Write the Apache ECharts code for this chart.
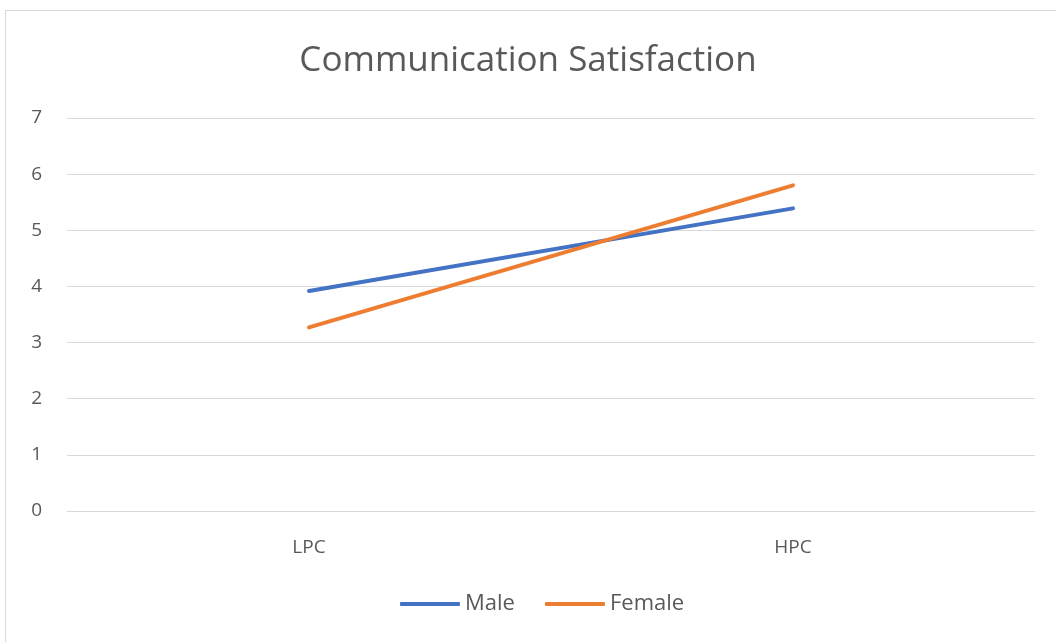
<!DOCTYPE html>
<html>
<head>
<meta charset="utf-8">
<script src="https://cdn.jsdelivr.net/npm/echarts@6/dist/echarts.min.js"></script>
<style>
  html, body { margin: 0; padding: 0; background: #fff; }
  #frame { position: absolute; left: 5px; top: 10px; width: 1060px; height: 640px; border: 1px solid #d9d9d9; box-sizing: border-box; }
  #chart { position: absolute; left: 0; top: 0; width: 1056px; height: 642px; }
</style>
</head>
<body>
<div id="frame"></div>
<div id="chart"></div>
<script>
const categories = ['LPC', 'HPC'];
const maleValues = [3.92, 5.39];
const femaleValues = [3.27, 5.80];
const yTicks = [0, 7, 1];

const chart = echarts.init(document.getElementById('chart'));
const textColor = '#595959';
const font = "'Open Sans', Calibri, sans-serif";

chart.setOption({
    animation: false,
    title: {
        text: 'Communication Satisfaction',
        left: 'center',
        top: 39,
        textStyle: { color: textColor, fontFamily: font, fontSize: 35, fontWeight: 'normal' }
    },
    legend: {
        bottom: 22,
        left: 395,
        itemWidth: 60,
        itemHeight: 4,
        itemGap: 30,
        icon: 'roundRect',
        textStyle: { color: textColor, fontFamily: font, fontSize: 22 },
        data: ['Male', 'Female']
    },
    grid: { left: 67, right: 21, top: 118, bottom: 131 },
    xAxis: {
        type: 'category',
        data: categories,
        boundaryGap: true,
        axisLine: { lineStyle: { color: '#d9d9d9' } },
        axisTick: { show: false },
        axisLabel: { color: textColor, fontFamily: font, fontSize: 19, margin: 27 }
    },
    yAxis: {
        type: 'value',
        min: yTicks[0],
        max: yTicks[1],
        interval: yTicks[2],
        axisLine: { show: false },
        axisTick: { show: false },
        splitLine: { lineStyle: { color: '#d9d9d9', width: 1 } },
        axisLabel: { color: textColor, fontFamily: font, fontSize: 19, margin: 25 }
    },
    series: [
        {
            name: 'Male',
            type: 'line',
            data: maleValues,
            showSymbol: false,
            symbol: 'none',
            lineStyle: { color: '#4472C4', width: 4, cap: 'round' },
            itemStyle: { color: '#4472C4' }
        },
        {
            name: 'Female',
            type: 'line',
            data: femaleValues,
            showSymbol: false,
            symbol: 'none',
            lineStyle: { color: '#ED7D31', width: 4, cap: 'round' },
            itemStyle: { color: '#ED7D31' }
        }
    ]
});
</script>
</body>
</html>
